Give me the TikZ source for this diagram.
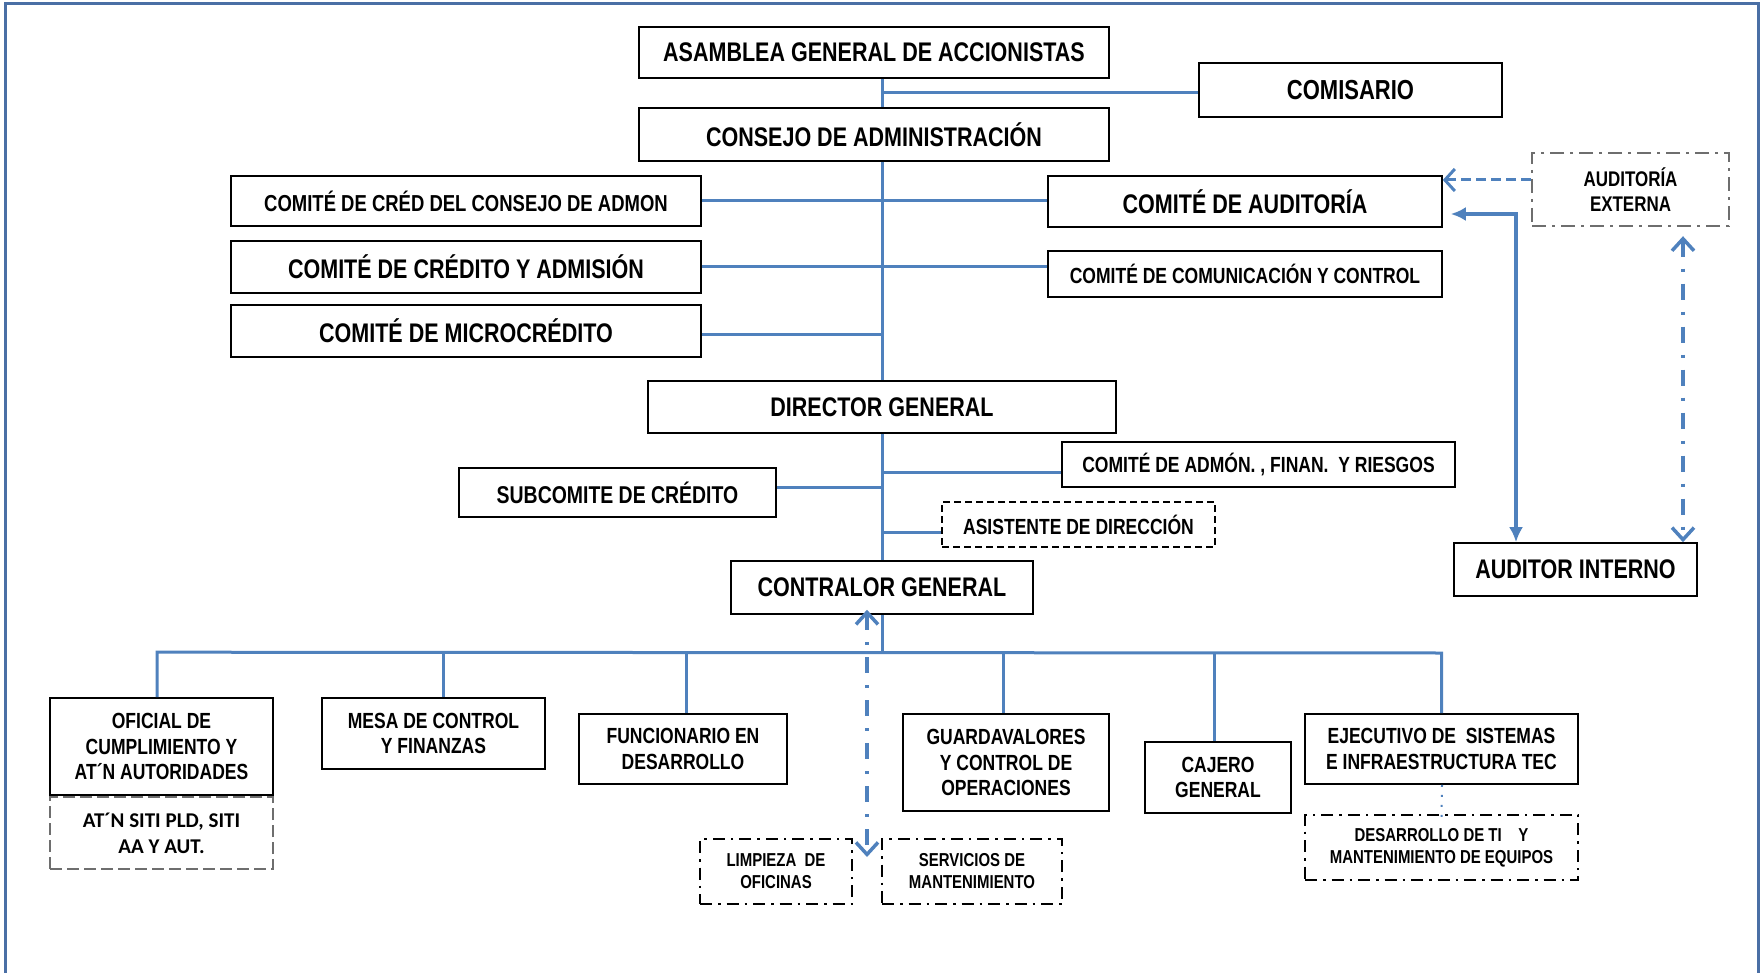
\documentclass[tikz,border=0pt]{standalone}
\usepackage{fontspec}
\setmainfont{Liberation Sans}[FakeStretch=0.8]
\newfontfamily\calfont{Carlito}
\usetikzlibrary{arrows.meta}
\definecolor{lnblue}{HTML}{4F81BD}
\definecolor{frameblue}{HTML}{4A6FA5}
\definecolor{boxgray}{HTML}{6E6E6E}
\begin{document}
\begin{tikzpicture}[x=1pt,y=-1pt,
  box/.style={draw=black, line width=1.6pt, fill=white, inner sep=0pt, align=center,
    font=\bfseries\fontsize{26.9}{29}\selectfont},
  midbox/.style={box, font=\bfseries\fontsize{21.9}{25.5}\selectfont},
  dashbox/.style={box, dash pattern=on 7pt off 4pt, font=\bfseries\fontsize{21.9}{25.5}\selectfont},
  ddbox/.style={box, line width=1.5pt, dash pattern=on 12pt off 6pt on 2.5pt off 6pt,
    font=\bfseries\fontsize{18.7}{22}\selectfont},
  graydd/.style={box, draw=boxgray, line width=2.4pt, dash pattern=on 14pt off 6pt on 3pt off 6pt,
    font=\bfseries\fontsize{21.2}{24.5}\selectfont},
  graydash/.style={box, draw=boxgray, line width=2.4pt, dash pattern=on 12pt off 5pt,
    font=\calfont\bfseries\fontsize{21}{25.7}\selectfont},
  conn/.style={draw=lnblue, line width=3pt},
  solidar/.style={draw=lnblue, line width=3.5pt, {Latex[length=15pt,width=14pt]}-{Latex[length=15pt,width=14pt]}},
  dashar/.style={draw=lnblue, line width=3pt, dash pattern=on 10pt off 5pt, -{Straight Barb[length=10pt,width=22pt]}},
  ddar/.style={draw=lnblue, line width=3.5pt, dash pattern=on 16pt off 12pt on 3pt off 12pt,
    {Straight Barb[length=12pt,width=22pt]}-{Straight Barb[length=12pt,width=22pt]}},
  dotln/.style={draw=lnblue, line width=2pt, dash pattern=on 2pt off 8pt},
  frame/.style={draw=frameblue, line width=3pt}
]
\useasboundingbox (0,0) rectangle (1761,973);
\draw[frame] (5,976) -- (5,4) -- (1758,4) -- (1758,976);

\coordinate (busY) at (0,653);

\node[box, minimum width=470pt, minimum height=51pt] (asamblea) at (874,52.5) {ASAMBLEA GENERAL DE ACCIONISTAS};
\node[box, minimum width=303pt, minimum height=54pt, font=\bfseries\fontsize{27.5}{29}\selectfont] (comisario) at (1350.5,90) {COMISARIO};
\node[box, minimum width=470pt, minimum height=53pt] (consejo) at (874,134.5) {CONSEJO DE ADMINISTRACIÓN};
\node[box, minimum width=470pt, minimum height=50pt, font=\bfseries\fontsize{23.1}{26}\selectfont] (credcons) at (466,201) {COMITÉ DE CRÉD DEL CONSEJO DE ADMON};
\node[box, minimum width=470pt, minimum height=52pt] (credadm) at (466,267) {COMITÉ DE CRÉDITO Y ADMISIÓN};
\node[box, minimum width=470pt, minimum height=52pt] (micro) at (466,331) {COMITÉ DE MICROCRÉDITO};
\node[box, minimum width=394pt, minimum height=51pt] (comaud) at (1245,201.5) {COMITÉ DE AUDITORÍA};
\node[midbox, minimum width=394pt, minimum height=46pt] (comcom) at (1245,274) {COMITÉ DE COMUNICACIÓN Y CONTROL};
\node[graydd, minimum width=197pt, minimum height=73pt] (audext) at (1630.5,189.5) {AUDITORÍA\\EXTERNA};
\node[box, minimum width=468pt, minimum height=52pt] (director) at (882,407) {DIRECTOR GENERAL};
\node[midbox, minimum width=393pt, minimum height=45pt] (comadm) at (1258.5,464.5) {COMITÉ DE ADMÓN. , FINAN.\ \ Y RIESGOS};
\node[box, minimum width=317pt, minimum height=49pt, font=\bfseries\fontsize{24.3}{27}\selectfont] (subcom) at (617.5,492.5) {SUBCOMITE DE CRÉDITO};
\node[dashbox, minimum width=273pt, minimum height=45pt] (asist) at (1078.5,524.5) {ASISTENTE DE DIRECCIÓN};
\node[box, minimum width=302pt, minimum height=53pt] (contralor) at (882,587.5) {CONTRALOR GENERAL};
\node[box, minimum width=243pt, minimum height=53pt] (auditor) at (1575.5,569.5) {AUDITOR INTERNO};

\node[midbox, minimum width=223pt, minimum height=97pt] (oficial) at (161.5,746.5) {OFICIAL DE\\CUMPLIMIENTO Y\\AT´N AUTORIDADES};
\node[graydash, minimum width=223pt, minimum height=72pt] (atn) at (161.5,833) {AT´N SITI PLD, SITI\\AA Y AUT.};
\node[midbox, minimum width=223pt, minimum height=71pt] (mesa) at (433.5,733.5) {MESA DE CONTROL\\Y FINANZAS};
\node[midbox, minimum width=208pt, minimum height=70pt] (func) at (683,749) {FUNCIONARIO EN\\DESARROLLO};
\node[midbox, minimum width=206pt, minimum height=97pt] (guard) at (1006,762.5) {GUARDAVALORES\\Y CONTROL DE\\OPERACIONES};
\node[midbox, minimum width=146pt, minimum height=71pt] (cajero) at (1218,777.5) {CAJERO\\GENERAL};
\node[midbox, minimum width=273pt, minimum height=70pt] (ejec) at (1441.5,749) {EJECUTIVO DE\ \ SISTEMAS\\E INFRAESTRUCTURA TEC};
\node[ddbox, minimum width=273pt, minimum height=65pt] (desa) at (1441.5,847.5) {DESARROLLO DE TI\ \ \ \ Y\\MANTENIMIENTO DE EQUIPOS};
\node[ddbox, minimum width=152pt, minimum height=65pt] (limp) at (776,871.5) {LIMPIEZA\ \ DE\\OFICINAS};
\node[ddbox, minimum width=180pt, minimum height=65pt] (serv) at (972,871.5) {SERVICIOS DE\\MANTENIMIENTO};

\coordinate (ddend) at (867,857);

% top trunk
\draw[conn] (asamblea.south -| director.north) -- (consejo.north -| director.north);
\draw[conn] ([yshift=-3pt]comisario.west -| director.north) -- ([yshift=-3pt]comisario.west);
\draw[conn] (consejo.south -| director.north) -- (director.north);
\draw[conn] (credcons.east) -- (credcons.east -| comaud.west);
\draw[conn] (credadm.east) -- (credadm.east -| comcom.west);
\draw[conn] ([yshift=-4pt]micro.east) -| (director.north);
\draw[conn] (director.south) -- (contralor.north);
\draw[conn] ([yshift=5.5pt]subcom.east) -| (director.south);
\draw[conn] ([yshift=-7.5pt]comadm.west) -| (director.south);
\draw[conn] ([yshift=-7.5pt]asist.west) -| (director.south);

% bottom bus
\draw[conn] (contralor.south) -- (contralor.south |- busY);
\draw[conn] ([xshift=-4.5pt]oficial.north) -- ++(0,-45) -- (ejec.north |- busY) -- (ejec.north);
\draw[conn] ([xshift=9.5pt]mesa.north) -- ++(0,-45);
\draw[conn] ([xshift=3pt]func.north) -- ++(0,-61);
\draw[conn] ([xshift=-3pt]guard.north) -- ++(0,-61);
\draw[conn] ([xshift=-4pt]cajero.north) -- ++(0,-89);

% arrows
\draw[dashar] (audext.west |- 0,180) -- (comaud.east |- 0,180);
\draw[solidar, shorten >=8pt] (auditor.north -| 1516,0) |- (comaud.east |- 0,214);
\draw[ddar, shorten <=9pt] (audext.south -| 1683,0) -- (auditor.north -| 1683,0);
\draw[ddar, shorten <=-5pt] (contralor.south -| ddend) -- (ddend);
\draw[dotln] (ejec.south -| 1442,0) -- ([yshift=-3pt]desa.north);
\end{tikzpicture}
\end{document}
